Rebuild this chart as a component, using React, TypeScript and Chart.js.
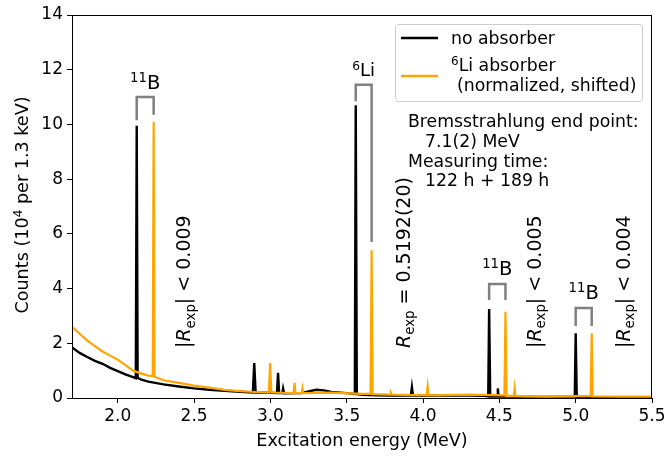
import React, { useEffect, useRef } from "react";
import { Chart, registerables } from "chart.js";

Chart.register(...registerables);

// ---- data ----
const noAbsEnergy = [
  1.70, 1.75, 1.80, 1.85, 1.90, 1.95, 2.00, 2.05, 2.10, 2.118, 2.124, 2.130, 2.15, 2.20, 2.30, 2.40, 2.50, 2.60, 2.70, 2.80,
  2.885, 2.894, 2.903, 3.00, 3.043, 3.050, 3.057, 3.078, 3.083, 3.09, 3.20, 3.30, 3.35, 3.40, 3.50, 3.553, 3.559, 3.566,
  3.60, 3.70, 3.80, 3.920, 3.927, 3.934, 4.00, 4.20, 4.40, 4.427, 4.433, 4.440, 4.485, 4.490, 4.495, 4.60, 4.80, 4.994,
  5.000, 5.007, 5.20, 5.50,
];
const noAbsCounts = [
  1.85, 1.65, 1.50, 1.36, 1.25, 1.10, 0.98, 0.86, 0.76, 0.72, 9.95, 0.74, 0.68, 0.60, 0.50, 0.42, 0.35, 0.30, 0.26, 0.23,
  0.20, 1.28, 0.20, 0.19, 0.18, 0.92, 0.18, 0.18, 0.35, 0.17, 0.18, 0.30, 0.28, 0.22, 0.18, 0.15, 10.7, 0.15,
  0.12, 0.10, 0.09, 0.09, 0.40, 0.09, 0.08, 0.10, 0.08, 0.06, 3.25, 0.06, 0.05, 0.35, 0.05, 0.05, 0.06, 0.05,
  2.37, 0.04, 0.03, 0.03,
];
const liAbsEnergy = [
  1.70, 1.75, 1.80, 1.85, 1.90, 1.95, 2.00, 2.05, 2.10, 2.15, 2.20, 2.229, 2.235, 2.241, 2.30, 2.40, 2.50, 2.60, 2.70, 2.80,
  2.90, 2.990, 2.998, 3.006, 3.10, 3.152, 3.158, 3.164, 3.205, 3.210, 3.215, 3.40, 3.60, 3.656, 3.663, 3.670, 3.785, 3.790,
  3.795, 4.024, 4.030, 4.036, 4.30, 4.533, 4.540, 4.547, 4.595, 4.600, 4.605, 4.80, 5.098, 5.105, 5.112, 5.30, 5.50,
];
const liAbsCounts = [
  2.60, 2.35, 2.10, 1.90, 1.70, 1.55, 1.40, 1.20, 1.00, 0.90, 0.82, 0.80, 10.1, 0.78, 0.65, 0.55, 0.45, 0.38, 0.30, 0.25,
  0.22, 0.20, 1.28, 0.20, 0.19, 0.18, 0.55, 0.18, 0.18, 0.35, 0.18, 0.20, 0.15, 0.15, 5.4, 0.14, 0.12, 0.18,
  0.12, 0.10, 0.42, 0.10, 0.12, 0.10, 3.15, 0.08, 0.08, 0.35, 0.08, 0.07, 0.07, 2.37, 0.06, 0.05, 0.05,
];
const xTickValues = [2.0, 2.5, 3.0, 3.5, 4.0, 4.5, 5.0, 5.5];
const yTickValues = [0, 2, 4, 6, 8, 10, 12, 14];

const seriesNames = ["no absorber", "Li absorber", "(normalized, shifted)"];

// bracket annotations
const brackets = [
  { x1: 2.124, x2: 2.235, top: 11.0, l: 10.15, r: 10.35, sup: "11", sym: "B", size: 19.5 },
  { x1: 3.559, x2: 3.663, top: 11.45, l: 10.85, r: 5.7, sup: "6", sym: "Li", size: 18 },
  { x1: 4.433, x2: 4.540, top: 4.17, l: 3.58, r: 3.58, sup: "11", sym: "B", size: 19.5 },
  { x1: 5.000, x2: 5.105, top: 3.29, l: 2.63, r: 2.63, sup: "11", sym: "B", size: 19.5 },
];
// rotated ratio texts
const ratioTexts = [
  { x: 2.391, abs: true, op: "<", val: "0.009" },
  { x: 3.827, abs: false, op: "=", val: "0.5192(20)" },
  { x: 4.688, abs: true, op: "<", val: "0.005" },
  { x: 5.268, abs: true, op: "<", val: "0.004" },
];
const infoLines = ["Bremsstrahlung end point:", "7.1(2) MeV", "Measuring time:", "122 h + 189 h"];

const FONT = '"DejaVu Sans", sans-serif';
const FS = 17.3;
const TICK_FS = 17;

type Seg = { t: string; size: number; dy?: number; italic?: boolean };

function richWidth(ctx: CanvasRenderingContext2D, segs: Seg[]) {
  let w = 0;
  for (const s of segs) {
    ctx.font = `${s.italic ? "italic " : ""}${s.size}px ${FONT}`;
    w += ctx.measureText(s.t).width;
  }
  return w;
}
function drawRich(ctx: CanvasRenderingContext2D, segs: Seg[], x: number, y: number, align: "left" | "center") {
  const w = richWidth(ctx, segs);
  let cx = align === "center" ? x - w / 2 : x;
  ctx.textAlign = "left";
  ctx.textBaseline = "alphabetic";
  for (const s of segs) {
    ctx.font = `${s.italic ? "italic " : ""}${s.size}px ${FONT}`;
    ctx.fillText(s.t, cx, y + (s.dy || 0));
    cx += ctx.measureText(s.t).width;
  }
}

const annotate = {
  id: "annotate",
  afterDatasetsDraw(chart: any) {
    const ctx: CanvasRenderingContext2D = chart.ctx;
    const xs = chart.scales.x;
    const ys = chart.scales.y;
    const a = chart.chartArea;
    ctx.save();
    // frame
    ctx.strokeStyle = "#000";
    ctx.lineWidth = 1;
    ctx.strokeRect(a.left + 0.5, a.top + 0.5, a.right - a.left - 1, a.bottom - a.top);

    // brackets
    ctx.strokeStyle = "#808080";
    ctx.lineWidth = 2.5;
    ctx.fillStyle = "#000";
    for (const b of brackets) {
      const px1 = xs.getPixelForValue(b.x1);
      const px2 = xs.getPixelForValue(b.x2);
      const pt = ys.getPixelForValue(b.top);
      ctx.beginPath();
      ctx.moveTo(px1, ys.getPixelForValue(b.l));
      ctx.lineTo(px1, pt);
      ctx.lineTo(px2, pt);
      ctx.lineTo(px2, ys.getPixelForValue(b.r));
      ctx.stroke();
      drawRich(
        ctx,
        [
          { t: b.sup, size: b.size * 0.68, dy: -b.size * 0.36 },
          { t: b.sym, size: b.size },
        ],
        (px1 + px2) / 2,
        pt - 8.5,
        "center"
      );
    }

    // rotated ratio texts
    for (const r of ratioTexts) {
      const px = xs.getPixelForValue(r.x);
      const fs = 19;
      const segs: Seg[] = [];
      if (r.abs) segs.push({ t: "|", size: fs });
      segs.push({ t: "R", size: fs, italic: true });
      segs.push({ t: "exp", size: fs * 0.7, dy: fs * 0.22 });
      if (r.abs) segs.push({ t: "|", size: fs });
      segs.push({ t: ` ${r.op} ${r.val}`, size: fs });
      ctx.save();
      ctx.translate(px + 13, 348);
      ctx.rotate(-Math.PI / 2);
      drawRich(ctx, segs, 0, 0, "left");
      ctx.restore();
    }

    // legend
    ctx.fillStyle = "rgba(255,255,255,0.8)";
    ctx.strokeStyle = "#cccccc";
    ctx.lineWidth = 1;
    ctx.beginPath();
    ctx.roundRect(395.5, 24.5, 247, 77, 3);
    ctx.fill();
    ctx.stroke();
    ctx.lineWidth = 2.5;
    ctx.strokeStyle = "#000";
    ctx.beginPath();
    ctx.moveTo(401, 38);
    ctx.lineTo(438, 38);
    ctx.stroke();
    ctx.strokeStyle = "#FFA500";
    ctx.beginPath();
    ctx.moveTo(401, 76);
    ctx.lineTo(438, 76);
    ctx.stroke();
    ctx.fillStyle = "#000";
    drawRich(ctx, [{ t: seriesNames[0], size: FS }], 451, 44, "left");
    drawRich(ctx, [{ t: "6", size: 12, dy: -6.5 }, { t: seriesNames[1], size: FS }], 451, 71, "left");
    drawRich(ctx, [{ t: seriesNames[2], size: FS }], 457, 91, "left");

    // info text
    drawRich(ctx, [{ t: infoLines[0], size: FS }], 408, 127, "left");
    drawRich(ctx, [{ t: infoLines[1], size: FS }], 425, 147, "left");
    drawRich(ctx, [{ t: infoLines[2], size: FS }], 408, 167, "left");
    drawRich(ctx, [{ t: infoLines[3], size: FS }], 425, 186, "left");

    // axis titles
    drawRich(ctx, [{ t: "Excitation energy (MeV)", size: 17.6 }], (a.left + a.right) / 2, 446, "center");
    ctx.save();
    ctx.translate(28, 205);
    ctx.rotate(-Math.PI / 2);
    drawRich(
      ctx,
      [
        { t: "Counts (10", size: 17.6 },
        { t: "4", size: 12, dy: -6.5 },
        { t: " per 1.3 keV)", size: 17.6 },
      ],
      0,
      0,
      "center"
    );
    ctx.restore();
    ctx.restore();
  },
};

export default function App() {
  const ref = useRef<HTMLCanvasElement | null>(null);
  useEffect(() => {
    document.body.style.margin = "0";
    const canvas = ref.current!;
    const chart = new Chart(canvas, {
      type: "line",
      data: {
        datasets: [
          {
            label: "6Li absorber",
            data: liAbsEnergy.map((x, i) => ({ x, y: liAbsCounts[i] })),
            borderColor: "#FFA500",
            borderWidth: 2.2,
            pointRadius: 0,
            tension: 0,
            order: 0,
          },
          {
            label: "no absorber",
            data: noAbsEnergy.map((x, i) => ({ x, y: noAbsCounts[i] })),
            borderColor: "#000000",
            borderWidth: 2.4,
            pointRadius: 0,
            tension: 0,
            order: 1,
          },
        ],
      },
      options: {
        animation: false,
        responsive: false,
        devicePixelRatio: 1,
        layout: { padding: { top: 15, right: 13, left: 0, bottom: 0 } },
        plugins: { legend: { display: false }, tooltip: { enabled: false }, title: { display: false } },
        scales: {
          x: {
            type: "linear",
            min: 1.7,
            max: 5.5,
            afterBuildTicks: (s: any) => {
              s.ticks = xTickValues.map((v) => ({ value: v }));
            },
            afterFit: (s: any) => {
              s.height = 58;
              s.paddingLeft = 0;
              s.paddingRight = 0;
              s.paddingTop = 0;
              s.paddingBottom = 0;
            },
            ticks: {
              color: "#000",
              font: { family: FONT, size: TICK_FS },
              padding: 3,
              maxRotation: 0,
              autoSkip: false,
              callback: (v: any) => Number(v).toFixed(1),
            },
            grid: { display: true, drawOnChartArea: false, drawTicks: true, tickLength: 5, color: "#000", lineWidth: 1 },
            border: { display: true, color: "#000", width: 1 },
          },
          y: {
            type: "linear",
            min: 0,
            max: 14,
            afterBuildTicks: (s: any) => {
              s.ticks = yTickValues.map((v) => ({ value: v }));
            },
            afterFit: (s: any) => {
              s.width = 72;
              s.paddingLeft = 0;
              s.paddingRight = 0;
              s.paddingTop = 0;
              s.paddingBottom = 0;
            },
            ticks: {
              color: "#000",
              font: { family: FONT, size: TICK_FS },
              padding: 4,
              autoSkip: false,
              callback: (v: any) => String(v),
            },
            grid: { display: true, drawOnChartArea: false, drawTicks: true, tickLength: 5, color: "#000", lineWidth: 1 },
            border: { display: true, color: "#000", width: 1 },
          },
        },
      },
      plugins: [annotate],
    });
    return () => chart.destroy();
  }, []);
  return (
    <div style={{ position: "absolute", left: 0, top: 0, width: 665, height: 456, background: "#fff" }}>
      <canvas ref={ref} width={665} height={456} style={{ width: 665, height: 456, display: "block" }} />
    </div>
  );
}
